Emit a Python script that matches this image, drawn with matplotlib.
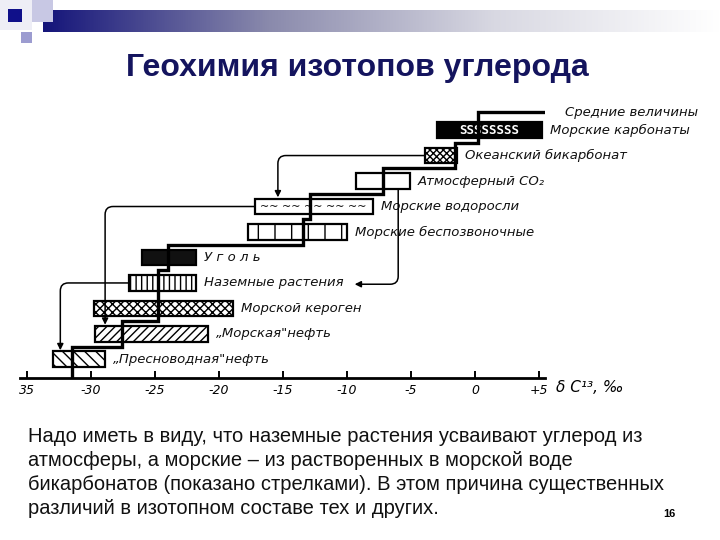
import numpy as np
import matplotlib
matplotlib.use("Agg")
import matplotlib.pyplot as plt
from matplotlib.patches import Rectangle
from matplotlib.colors import LinearSegmentedColormap

# --- data (delta C13, per mil) ---
sources = ["Морские карбонаты", "Океанский бикарбонат", "Атмосферный CO₂",
           "Морские водоросли", "Морские беспозвоночные", "У г о л ь",
           "Наземные растения", "Морской кероген", "„Морская\"нефть",
           "„Пресноводная\"нефть"]
range_lo = [-3.0, -3.9, -9.3, -17.2, -17.7, -26.0, -27.0, -29.8, -29.7, -33.0]
range_hi = [5.2, -1.4, -5.1, -8.0, -10.0, -21.8, -21.8, -18.9, -20.9, -28.9]
mean_vals = [0.2, -1.6, -7.2, -12.9, -13.4, -24.0, -24.8, -24.8, -27.6, -31.5]
tick_vals = [-35, -30, -25, -20, -15, -10, -5, 0, 5]
tick_text = ["35", "-30", "-25", "-20", "-15", "-10", "-5", "0", "+5"]

title = "Геохимия изотопов углерода"
body = ["Надо иметь в виду, что наземные растения усваивают углерод из",
        "атмосферы, а морские – из растворенных в морской воде",
        "бикарбонатов (показано стрелками). В этом причина существенных",
        "различий в изотопном составе тех и других."]

W, H = 720, 540
fig = plt.figure(figsize=(W / 100, H / 100), dpi=100)
fig.patch.set_facecolor("white")

# slide decoration
band = fig.add_axes([43 / W, 1 - 32 / H, (W - 43) / W, 22 / H])
cmap = LinearSegmentedColormap.from_list("band", ["#15157a", "#8a8aac", "#d8d8e2", "#ffffff"])
band.imshow(np.linspace(0, 1, 256)[None, :], aspect="auto", cmap=cmap)
band.axis("off")
for x0, y0, w, h, c in [(0, 0, 32, 30, "#eeeef6"), (32, 0, 21, 22, "#c8c8e4"),
                        (21, 32, 11, 11, "#9c9cd0"), (8, 9, 14, 13, "#10108a")]:
    fig.add_artist(Rectangle((x0 / W, 1 - (y0 + h) / H), w / W, h / H,
                             transform=fig.transFigure, color=c, lw=0))

fig.text(357 / W, 1 - 68 / H, title, ha="center", va="center", fontsize=23,
         fontweight="bold", color="#14145e", family=["Liberation Sans", "DejaVu Sans"])

# --- diagram ---
ax = fig.add_axes([20 / W, 1 - 378 / H, 525 / W, 278 / H])
n = len(sources)
rows = np.arange(n)
lo = np.array(range_lo)
hi = np.array(range_hi)
ax.set_xlim(-35.55, 5.47)
ax.set_ylim(9.73, -1.18)

styles = [
    dict(color="black"),
    dict(color="white", hatch="xxxxx", edgecolor="black"),
    dict(color="white"),
    dict(color="white"),
    dict(color="white", hatch="|", edgecolor="black"),
    dict(color="#111111"),
    dict(color="white", hatch="|||", edgecolor="black"),
    dict(color="white", hatch="xxxx", edgecolor="black"),
    dict(color="white", hatch="////", edgecolor="black"),
    dict(color="white", hatch="\\\\\\", edgecolor="black"),
]
bh = 0.62
outlines = []
for i in range(n):
    st = styles[i]
    ax.barh(rows[i], hi[i] - lo[i], left=lo[i], height=bh, color=st["color"],
            hatch=st.get("hatch"), edgecolor=st.get("edgecolor", st["color"]),
            linewidth=0, zorder=2)
    outlines.append(ax.barh(rows[i], hi[i] - lo[i], left=lo[i], height=bh, fill=False,
                            edgecolor="black", linewidth=1.6, zorder=3)[0])
    ax.annotate(sources[i], (hi[i], rows[i]), xytext=(6, 0), textcoords="offset points",
                va="center", ha="left", fontsize=9.5, style="italic", color="#111111")

# fills drawn as characters
t = ax.text((lo[0] + hi[0]) / 2, rows[0], "SSSSSSSS", color="white", fontsize=9,
            fontweight="bold", family="DejaVu Sans Mono", ha="center", va="center", zorder=4)
t.set_clip_path(outlines[0])
t = ax.text((lo[3] + hi[3]) / 2, rows[3], "~~ ~~ ~~ ~~ ~~", color="black", fontsize=8,
            ha="center", va="center", zorder=4)
t.set_clip_path(outlines[3])

# mean values staircase
tops = [-0.7] + [i + 0.5 for i in range(n - 1)]
bots = [i + 0.5 for i in range(n - 1)] + [9.73]
sx, sy = [5.5], [-0.7]
for i in range(n):
    sx += [mean_vals[i], mean_vals[i]]
    sy += [tops[i], bots[i]]
ax.plot(sx, sy, color="black", lw=2.4, zorder=5, solid_joinstyle="miter")
ax.annotate("Средние величины", (5.5, -0.7), xytext=(14, 0), textcoords="offset points",
            va="center", ha="left", fontsize=9.5, style="italic", color="#111111",
            annotation_clip=False)

# arrows
arr = dict(arrowstyle="-|>", color="black", lw=1.1, mutation_scale=9, shrinkA=0, shrinkB=0)
ax.annotate("", xy=(-15.4, 3 - bh / 2 - 0.05), xytext=(lo[1], 1),
            arrowprops=dict(arr, connectionstyle="angle,angleA=0,angleB=90,rad=8"))
ax.annotate("", xy=(-9.4, 6.05), xytext=(-6.0, 2 + bh / 2),
            arrowprops=dict(arr, connectionstyle="angle,angleA=90,angleB=0,rad=8"))
ax.annotate("", xy=(-28.9, 8 - bh / 2 - 0.05), xytext=(lo[3], 3),
            arrowprops=dict(arr, connectionstyle="angle,angleA=0,angleB=90,rad=8"))
ax.annotate("", xy=(-32.4, 9 - bh / 2 - 0.05), xytext=(lo[6], 6),
            arrowprops=dict(arr, connectionstyle="angle,angleA=0,angleB=90,rad=8"))

for s in ["top", "right", "left"]:
    ax.spines[s].set_visible(False)
ax.spines["bottom"].set_linewidth(2)
ax.set_yticks([])
ax.set_xticks(tick_vals)
ax.set_xticklabels(tick_text, fontsize=9, style="italic")
ax.tick_params(axis="x", direction="in", length=5, width=1.4, pad=4)
ax.patch.set_alpha(0)

fig.text(556 / W, 1 - 388 / H, "δ C¹³, ‰", fontsize=11, style="italic", va="center")

for k, line in enumerate(body):
    fig.text(28 / W, 1 - (437 + 24 * k) / H, line, fontsize=14.5, va="center",
             family=["Liberation Sans", "DejaVu Sans"], color="#111111")
fig.text(669 / W, 1 - 514 / H, "16", fontsize=8, fontweight="bold", ha="center",
         va="center", family=["Liberation Sans", "DejaVu Sans"])

fig.savefig("out.png", dpi=100)
